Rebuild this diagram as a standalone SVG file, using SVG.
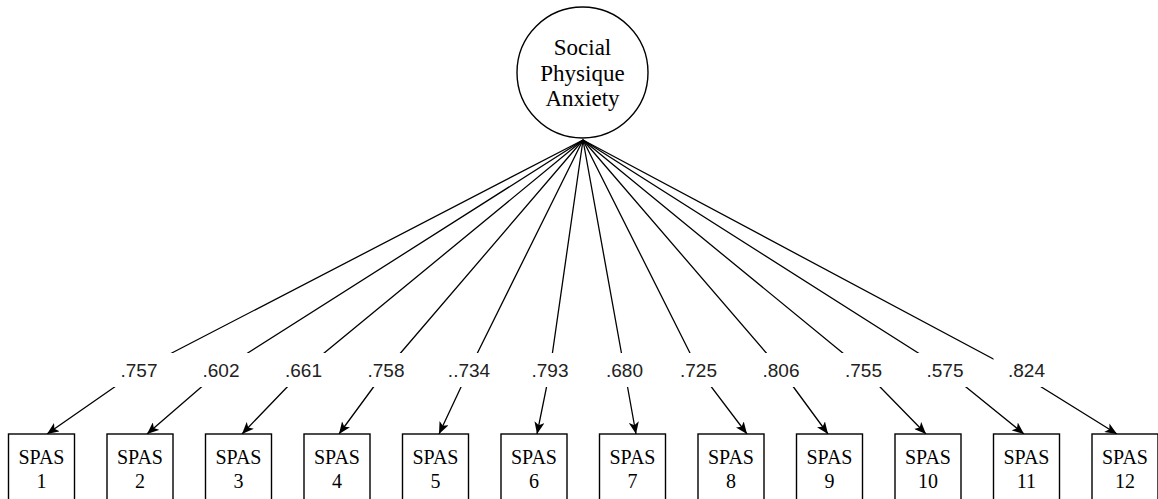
<svg xmlns="http://www.w3.org/2000/svg" width="1158" height="499" viewBox="0 0 1158 499">
  <style>
    .latent { fill: #ffffff; stroke: #000000; stroke-width: 1.4; }
    .item { fill: #ffffff; stroke: #000000; stroke-width: 1.4; }
    .serif { font-family: "Liberation Serif", "Times New Roman", serif; fill: #000000; text-anchor: middle; }
    .latent-text { font-size: 23px; }
    .item-text { font-size: 20px; }
    .edge { fill: none; stroke: #000000; stroke-width: 1.3; marker-end: url(#arrow); }
    .lbl-bg { fill: #ffffff; stroke: none; }
    .lbl { font-family: "Liberation Sans", Arial, sans-serif; font-size: 19px; fill: #222222; text-anchor: middle; }
  </style>
  <defs>
    <marker id="arrow" markerUnits="userSpaceOnUse" viewBox="0 0 12 10" refX="12" refY="5" markerWidth="12" markerHeight="10" orient="auto">
      <path d="M0,0 L12,5 L0,10 L3,5 Z" fill="#000000"/>
    </marker>
  </defs>

  <rect width="1158" height="499" fill="#ffffff"/>

  <!-- loadings: factor -> bend at label -> indicator -->
  <g id="connectors">
    <path class="edge" d="M583,140 L139,370 L47,434"/>
    <path class="edge" d="M583,140 L221,370 L147,434"/>
    <path class="edge" d="M583,140 L303.5,370 L242,434"/>
    <path class="edge" d="M583,140 L386,370 L339,434"/>
    <path class="edge" d="M583,140 L469,370 L439,434"/>
    <path class="edge" d="M583,140 L550,370 L537,434"/>
    <path class="edge" d="M583,140 L624.5,370 L636,434"/>
    <path class="edge" d="M583,140 L698.5,370 L747,434"/>
    <path class="edge" d="M583,140 L781,370 L828,434"/>
    <path class="edge" d="M583,140 L863.5,370 L926,434"/>
    <path class="edge" d="M583,140 L945,370 L1024,434"/>
    <path class="edge" d="M583,140 L1014,370 L1117,434"/>
  </g>

  <!-- loading labels -->
  <g id="labels">
    <rect class="lbl-bg" x="106" y="353" width="67" height="34"/>
    <text class="lbl" x="139" y="377">.757</text>
    <rect class="lbl-bg" x="188" y="353" width="67" height="34"/>
    <text class="lbl" x="221" y="377">.602</text>
    <rect class="lbl-bg" x="270.5" y="353" width="67" height="34"/>
    <text class="lbl" x="303.5" y="377">.661</text>
    <rect class="lbl-bg" x="353" y="353" width="67" height="34"/>
    <text class="lbl" x="386" y="377">.758</text>
    <rect class="lbl-bg" x="436" y="353" width="67" height="34"/>
    <text class="lbl" x="469" y="377">..734</text>
    <rect class="lbl-bg" x="517" y="353" width="67" height="34"/>
    <text class="lbl" x="550" y="377">.793</text>
    <rect class="lbl-bg" x="591.5" y="353" width="67" height="34"/>
    <text class="lbl" x="624.5" y="377">.680</text>
    <rect class="lbl-bg" x="665.5" y="353" width="67" height="34"/>
    <text class="lbl" x="698.5" y="377">.725</text>
    <rect class="lbl-bg" x="748" y="353" width="67" height="34"/>
    <text class="lbl" x="781" y="377">.806</text>
    <rect class="lbl-bg" x="830.5" y="353" width="67" height="34"/>
    <text class="lbl" x="863.5" y="377">.755</text>
    <rect class="lbl-bg" x="912" y="353" width="67" height="34"/>
    <text class="lbl" x="945" y="377">.575</text>
    <rect class="lbl-bg" x="993.5" y="353" width="67" height="34"/>
    <text class="lbl" x="1026.5" y="377">.824</text>
  </g>

  <!-- latent factor -->
  <g id="social-physique-anxiety">
    <circle class="latent" cx="582.5" cy="72.5" r="65.5"/>
    <text class="serif latent-text" x="582.5" y="55">Social</text>
    <text class="serif latent-text" x="582.5" y="80.5">Physique</text>
    <text class="serif latent-text" x="582.5" y="106">Anxiety</text>
  </g>

  <!-- observed indicators -->
  <g id="spas1"><rect class="item" x="8.5" y="434" width="66" height="70"/><text class="serif item-text" x="41.5" y="464">SPAS</text><text class="serif item-text" x="41.5" y="488">1</text></g>
  <g id="spas2"><rect class="item" x="107" y="434" width="66" height="70"/><text class="serif item-text" x="140" y="464">SPAS</text><text class="serif item-text" x="140" y="488">2</text></g>
  <g id="spas3"><rect class="item" x="205.5" y="434" width="66" height="70"/><text class="serif item-text" x="238.5" y="464">SPAS</text><text class="serif item-text" x="238.5" y="488">3</text></g>
  <g id="spas4"><rect class="item" x="304" y="434" width="66" height="70"/><text class="serif item-text" x="337" y="464">SPAS</text><text class="serif item-text" x="337" y="488">4</text></g>
  <g id="spas5"><rect class="item" x="402.5" y="434" width="66" height="70"/><text class="serif item-text" x="435.5" y="464">SPAS</text><text class="serif item-text" x="435.5" y="488">5</text></g>
  <g id="spas6"><rect class="item" x="501" y="434" width="66" height="70"/><text class="serif item-text" x="534" y="464">SPAS</text><text class="serif item-text" x="534" y="488">6</text></g>
  <g id="spas7"><rect class="item" x="599.5" y="434" width="66" height="70"/><text class="serif item-text" x="632.5" y="464">SPAS</text><text class="serif item-text" x="632.5" y="488">7</text></g>
  <g id="spas8"><rect class="item" x="698" y="434" width="66" height="70"/><text class="serif item-text" x="731" y="464">SPAS</text><text class="serif item-text" x="731" y="488">8</text></g>
  <g id="spas9"><rect class="item" x="796.5" y="434" width="66" height="70"/><text class="serif item-text" x="829.5" y="464">SPAS</text><text class="serif item-text" x="829.5" y="488">9</text></g>
  <g id="spas10"><rect class="item" x="895" y="434" width="66" height="70"/><text class="serif item-text" x="928" y="464">SPAS</text><text class="serif item-text" x="928" y="488">10</text></g>
  <g id="spas11"><rect class="item" x="993.5" y="434" width="66" height="70"/><text class="serif item-text" x="1026.5" y="464">SPAS</text><text class="serif item-text" x="1026.5" y="488">11</text></g>
  <g id="spas12"><rect class="item" x="1092" y="434" width="66" height="70"/><text class="serif item-text" x="1125" y="464">SPAS</text><text class="serif item-text" x="1125" y="488">12</text></g>
</svg>
